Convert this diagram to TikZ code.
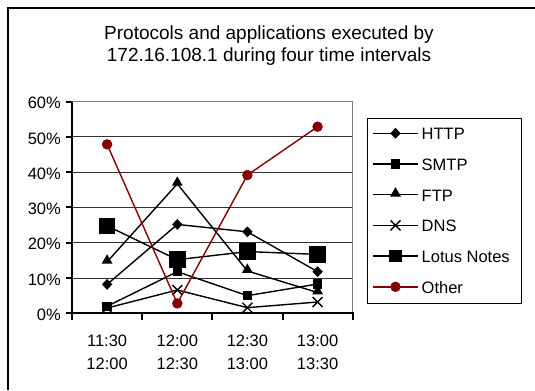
\documentclass[tikz,border=0pt]{standalone}
\usepackage{fontspec}
\setmainfont{Liberation Sans}
\usetikzlibrary{shapes.geometric,shapes.misc,calc}
\definecolor{othc}{RGB}{134,0,0}
\definecolor{gridc}{RGB}{50,50,50}
\definecolor{borderc}{RGB}{128,128,128}
\tikzset{
  serline/.style={line width=1.4bp, black},
  othline/.style={line width=1.4bp, othc},
  mkdiam/.style={diamond, fill=black, inner sep=0pt, minimum width=10.5bp, minimum height=11bp},
  mksq/.style={rectangle, fill=black, inner sep=0pt, minimum size=9.5bp},
  mktri/.style={regular polygon, regular polygon sides=3, fill=black, inner sep=0pt, minimum size=12.5bp, yshift=1.3bp},
  mkx/.style={cross out, draw=black, line width=1.4bp, inner sep=0pt, minimum size=8.5bp},
  mkbig/.style={rectangle, fill=black, inner sep=0pt, minimum size=16.5bp},
  mklegbig/.style={rectangle, fill=black, inner sep=0pt, minimum size=12.5bp},
  mkcirc/.style={circle, fill=othc, inner sep=0pt, minimum size=10.5bp},
  titletxt/.style={font=\fontsize{19bp}{22bp}\selectfont, inner sep=0pt, anchor=base},
  ticktxt/.style={font=\fontsize{16.5bp}{20bp}\selectfont, inner sep=0pt},
  gridln/.style={gridc, line width=1bp},
  axisln/.style={black, line width=2bp}
}
\begin{document}
\begin{tikzpicture}[x=1bp,y=1bp]
\useasboundingbox (0,0) rectangle (535,390);
% outer frame (left and top)
\coordinate (fa) at (8,0);
\coordinate (fb) at (8,382);
\coordinate (fc) at (535,382);
\draw[line width=2bp] (fa) -- (fb) -- (fc);
% title
\node[titletxt] (t1) at (269,350.7) {Protocols and applications executed by};
\node[titletxt] (t2) at (269,328.3) {172.16.108.1 during four time intervals};
% chart
\begin{scope}[yshift=76.7bp, y=3.527bp]
  \foreach \v in {10,20,30,40,50}{
    \draw[gridln] (72,\v) -- (352.7,\v);
  }
  \draw[borderc, line width=1.3bp] (72,60) -- (352.7,60) -- (352.7,0);
  \foreach \v in {0,10,...,60}{
    \draw[axisln, line cap=butt] (65.5,\v) -- (72,\v);
    \node[ticktxt, anchor=base east] (yl\v) at (61,\v) [yshift=-7.2bp] {\v\%};
  }
  \foreach \xx in {72,142.2,212.35,282.5,352.7}{
    \draw[axisln] (\xx,0) -- (\xx,-1.8);
  }
  \draw[axisln] (72,60) -- (72,0) -- (353.7,0);
  % data coordinates
  \coordinate (h1) at (107.1,8.2);  \coordinate (h2) at (177.3,25.2);
  \coordinate (h3) at (247.4,23.1); \coordinate (h4) at (317.6,11.8);
  \coordinate (s1) at (107.1,2.0);  \coordinate (s2) at (177.3,11.8);
  \coordinate (s3) at (247.4,5.0);  \coordinate (s4) at (317.6,8.3);
  \coordinate (f1) at (107.1,14.6); \coordinate (f2) at (177.3,36.7);
  \coordinate (f3) at (247.4,12.0); \coordinate (f4) at (317.6,5.9);
  \coordinate (d1) at (107.1,1.5);  \coordinate (d2) at (177.3,6.6);
  \coordinate (d3) at (247.4,1.6);  \coordinate (d4) at (317.6,3.2);
  \coordinate (l1) at (107.1,24.8); \coordinate (l2) at (177.3,15.2);
  \coordinate (l3) at (247.4,17.5); \coordinate (l4) at (317.6,16.7);
  \coordinate (o1) at (107.1,47.9); \coordinate (o2) at (177.3,2.8);
  \coordinate (o3) at (247.4,39.2); \coordinate (o4) at (317.6,52.9);
  % HTTP
  \draw[serline] (h1) -- (h2) -- (h3) -- (h4);
  \foreach \p in {h1,h2,h3,h4} \node[mkdiam] at (\p) {};
  % SMTP
  \draw[serline] (s1) -- (s2) -- (s3) -- (s4);
  \foreach \p in {s1,s2,s3,s4} \node[mksq] at (\p) {};
  % FTP
  \draw[serline] (f1) -- (f2) -- (f3) -- (f4);
  \foreach \p in {f1,f2,f3,f4} \node[mktri] at (\p) {};
  % DNS
  \draw[serline] (d1) -- (d2) -- (d3) -- (d4);
  \foreach \p in {d1,d2,d3,d4} \node[mkx] at (\p) {};
  % Lotus Notes
  \draw[serline] (l1) -- (l2) -- (l3) -- (l4);
  \foreach \p in {l1,l2,l3,l4} \node[mkbig] at (\p) {};
  % Other
  \draw[othline] (o1) -- (o2) -- (o3) -- (o4);
  \foreach \p in {o1,o2,o3,o4} \node[mkcirc] at (\p) {};
\end{scope}
% x labels
\foreach \xx/\a/\b [count=\i] in {107.1/11:30/12:00, 177.3/12:00/12:30, 247.4/12:30/13:00, 317.6/13:00/13:30}{
  \node[ticktxt, anchor=base] (xa\i) at (\xx,43.3) {\a};
  \node[ticktxt, anchor=base] (xb\i) at (\xx,20.7) {\b};
}
% legend
\node[draw=black, line width=1bp, inner sep=0pt, minimum width=153.7bp, minimum height=184.7bp, anchor=south west] (leg) at (367,86) {};
\foreach \nm/\mk/\ln [count=\i] in {HTTP/mkdiam/serline, SMTP/mksq/serline, FTP/mktri/serline, DNS/mkx/serline, Lotus Notes/mklegbig/serline, Other/mkcirc/othline}{
  \coordinate (la\i) at (372.7,{390-133.3-30.7*(\i-1)});
  \coordinate (lb\i) at (418.3,{390-133.3-30.7*(\i-1)});
  \draw[\ln] (la\i) -- (lb\i);
  \node[\mk] (lm\i) at ($(la\i)!0.5!(lb\i)$) {};
  \node[ticktxt, anchor=base west] (lt\i) at (421.5,{390-133.3-30.7*(\i-1)-6.5}) {\nm};
}
\end{tikzpicture}
\end{document}
